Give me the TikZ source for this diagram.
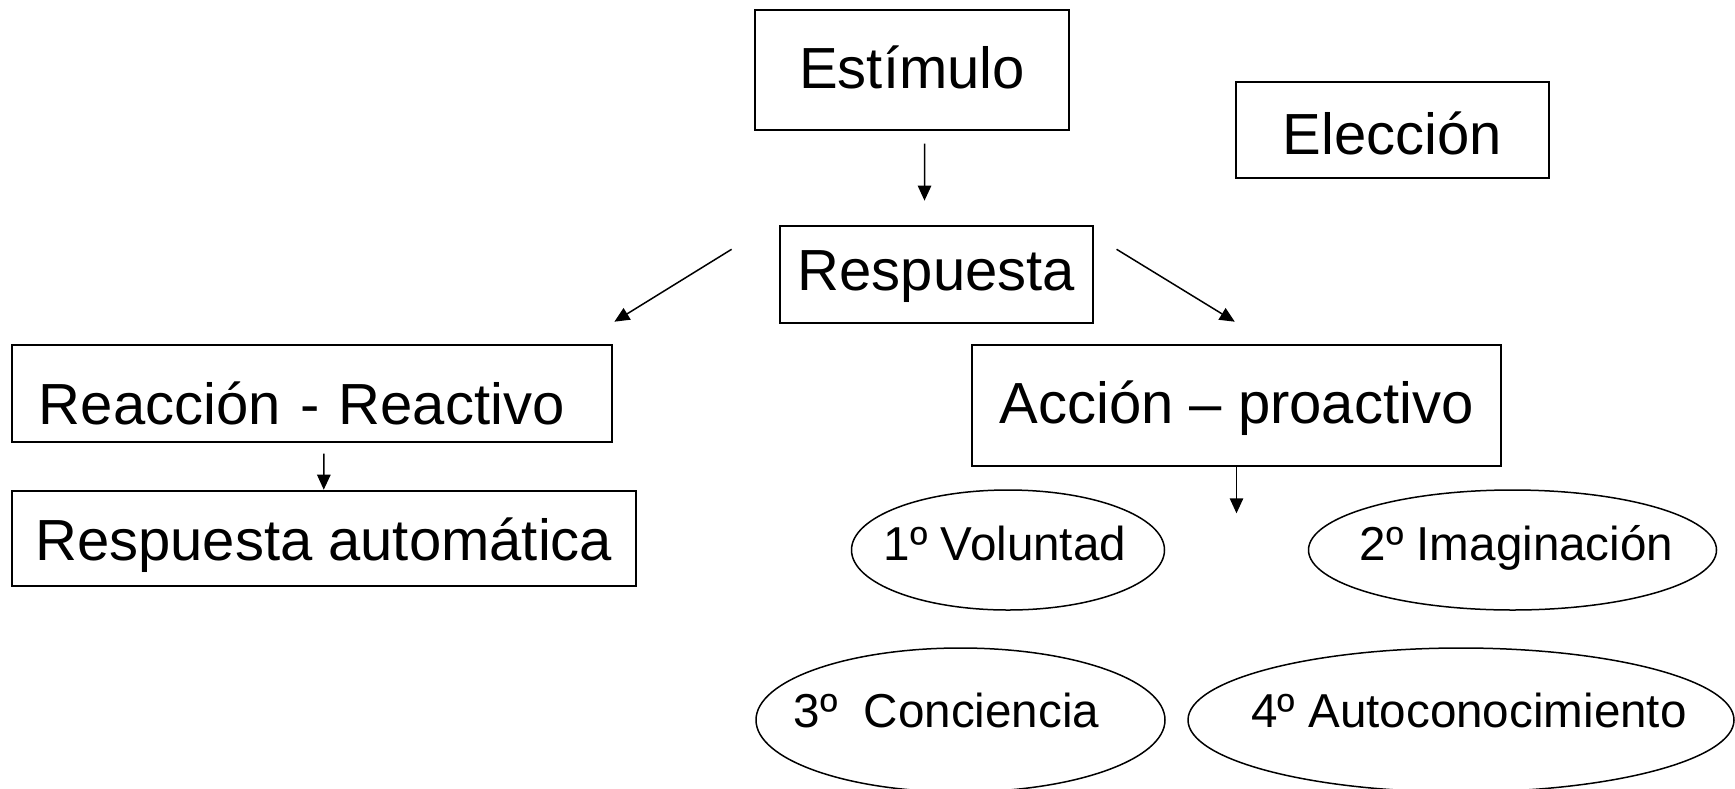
\documentclass[tikz,border=0pt]{standalone}
\usepackage{fontspec}
\setmainfont{Liberation Sans}
\usetikzlibrary{arrows.meta,shapes.geometric}

\begin{document}
\begin{tikzpicture}[
    x=0.5pt, y=-0.5pt,
    every node/.style={inner sep=0pt},
    box/.style={draw, line width=1pt, font=\fontsize{29}{34}\selectfont, text height=26.2pt, text depth=6.2pt},
    oval/.style={draw, ellipse, line width=0.75pt},
    ovaltext/.style={font=\fontsize{23.8}{28}\selectfont, text height=17pt, text depth=7pt},
    arr/.style={line width=0.75pt, -{Triangle[length=7.5pt,width=6.7pt]}}
]

% Page frame
\useasboundingbox (0,0) rectangle (1735,788);

% Top row
\node[box, minimum width=157pt, minimum height=60.25pt, text height=24.75pt] (est) at (912,69.75) {Estímulo};
\node[box, minimum width=156.5pt, minimum height=48pt, text height=30.8pt] (elec) at (1392.5,129.7) {Elección};
\node[box, minimum width=156.5pt, minimum height=48.35pt, text height=21.9pt] (resp) at (936.5,274.3) {Respuesta};

% Left branch
\node[box, minimum height=48.5pt, text width=272.75pt, inner xsep=13.75pt, align=left, text height=37.6pt] (reac) at (311.75,393.5) {Reacción - Reactivo};
\node[box, minimum width=312.25pt, minimum height=47.65pt, text height=27.85pt] (auto) at (323.75,538.35) {Respuesta automática};

% Right branch
\node[box, minimum width=264.5pt, minimum height=60.25pt, text height=24.2pt] (acc) at (1236.5,405.25) {Acción – proactivo};

% The four steps
\node[oval, minimum width=156.5pt, minimum height=60pt, label={[ovaltext, xshift=-1.5pt]center:1º Voluntad}] (vol) at (1008,550) {};
\node[oval, minimum width=204pt, minimum height=60pt, label={[ovaltext, xshift=2pt]center:2º Imaginación}] (imag) at (1512.5,550) {};
\node[oval, minimum width=204.5pt, minimum height=72pt, label={[ovaltext, xshift=-7pt, yshift=1.5pt]center:3º\ \ Conciencia}] (conc) at (960.5,720) {};
\node[oval, minimum width=273pt, minimum height=72pt, label={[ovaltext, xshift=4pt, yshift=1.5pt]center:4º Autoconocimiento}] (autoc) at (1461,720) {};

% Arrows
\draw[arr] ([xshift=6.3pt, yshift=-6.35pt]est.south) -- ([xshift=-6pt, yshift=12.15pt]resp.north);
\draw[arr] ([xshift=-23.7pt, yshift=12.5pt]resp.west) -- ([xshift=0.7pt, yshift=11.15pt]reac.north east);
\draw[arr] ([xshift=11.3pt, yshift=12.5pt]resp.east) -- ([xshift=-0.85pt, yshift=11.15pt]acc.north);
\draw[arr] ([xshift=6.1pt, yshift=-5.35pt]reac.south) -- (auto.north);
\draw[arr] (acc.south) -- ([yshift=-23.4pt]acc.south);

\end{tikzpicture}
\end{document}
